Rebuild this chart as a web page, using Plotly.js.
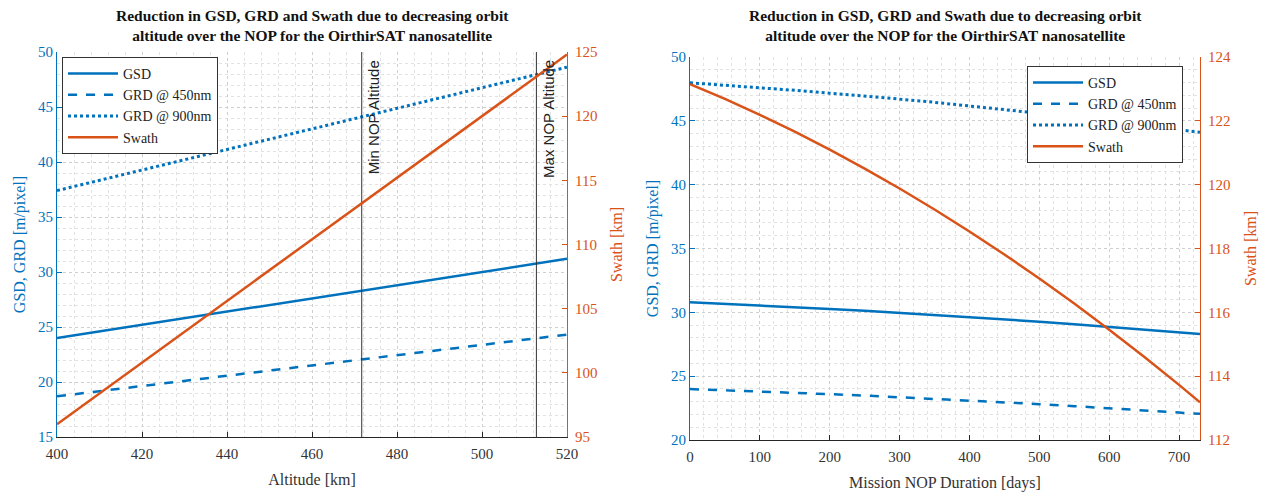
<!DOCTYPE html>
<html><head><meta charset="utf-8">
<script src="https://cdn.plot.ly/plotly-3.0.1.min.js"></script>
<style>html,body{margin:0;padding:0;background:#fff}#plot{width:1263px;height:492px}</style>
</head><body><div id="plot"></div>
<script>
// Left chart: vs altitude
const altitude = [400, 420, 440, 460, 480, 500, 520];
const gsdAlt = [24.0, 25.2, 26.4, 27.6, 28.8, 30.0, 31.2];
const grd450Alt = [18.7, 19.64, 20.57, 21.5, 22.44, 23.38, 24.31];
const grd900Alt = [37.4, 39.27, 41.14, 43.01, 44.88, 46.75, 48.62];
const swathAlt = [96.0, 100.8, 105.6, 110.4, 115.2, 120.0, 124.8];
const minNopAlt = 471.7;
const maxNopAlt = 512.8;

// Right chart: vs mission duration
const days = [0, 50, 100, 150, 200, 250, 300, 350, 400, 450, 500, 550, 600, 650, 700, 730];
const gsdDays = [30.79, 30.67, 30.55, 30.41, 30.27, 30.13, 29.97, 29.81, 29.63, 29.45, 29.27, 29.07, 28.86, 28.65, 28.43, 28.30];
const grd450Days = [23.99, 23.90, 23.80, 23.70, 23.59, 23.48, 23.35, 23.23, 23.09, 22.95, 22.81, 22.65, 22.49, 22.32, 22.15, 22.05];
const grd900Days = [47.98, 47.79, 47.61, 47.39, 47.17, 46.95, 46.70, 46.45, 46.17, 45.89, 45.61, 45.30, 44.97, 44.64, 44.30, 44.10];
const swathDays = [123.15, 122.685, 122.188, 121.659, 121.098, 120.505, 119.880, 119.223, 118.534, 117.813, 117.060, 116.275, 115.458, 114.609, 113.728, 113.180];

const seriesNames = ['GSD', 'GRD @ 450nm', 'GRD @ 900nm', 'Swath'];
const titleText = 'Reduction in GSD, GRD and Swath due to decreasing orbit<br>altitude over the NOP for the OirthirSAT nanosatellite';

const BLUE = '#0072BD', ORANGE = '#D95319', DARK = '#262626';
const SERIF = '"Liberation Serif", "Times New Roman", serif';
const SANS = '"Liberation Sans", Arial, sans-serif';

function mk(x, y, name, color, dash, xa, ya, legend, w) {
  return {x: x, y: y, name: name, type: 'scatter', mode: 'lines', xaxis: xa, yaxis: ya,
    legend: legend, line: {color: color, width: w || 2.5, dash: dash}};
}
const traces = [
  mk(altitude, gsdAlt, seriesNames[0], BLUE, 'solid', 'x', 'y', 'legend'),
  mk(altitude, grd450Alt, seriesNames[1], BLUE, 'dash', 'x', 'y', 'legend'),
  mk(altitude, grd900Alt, seriesNames[2], BLUE, 'dot', 'x', 'y', 'legend', 3),
  mk(altitude, swathAlt, seriesNames[3], ORANGE, 'solid', 'x', 'y2', 'legend'),
  mk(days, gsdDays, seriesNames[0], BLUE, 'solid', 'x2', 'y3', 'legend2'),
  mk(days, grd450Days, seriesNames[1], BLUE, 'dash', 'x2', 'y3', 'legend2'),
  mk(days, grd900Days, seriesNames[2], BLUE, 'dot', 'x2', 'y3', 'legend2', 3),
  mk(days, swathDays, seriesNames[3], ORANGE, 'solid', 'x2', 'y4', 'legend2')
];
// vertical NOP lines
[minNopAlt, maxNopAlt].forEach(v => {
  traces.push({x: [v, v], y: [15, 50], xaxis: 'x', yaxis: 'y', mode: 'lines', showlegend: false,
    hoverinfo: 'skip', line: {color: '#333', width: 1}});
});

const H = 492, W = 1263;
const L1 = [57 / W, 567 / W], L1y = [1 - 437 / H, 1 - 52 / H];
const R1 = [690 / W, 1200 / W], R1y = [1 - 440 / H, 1 - 57 / H];

const grid = {gridcolor: '#cfcfcf', griddash: 'dot', gridwidth: 1};
const minorBase = {showgrid: true, gridcolor: '#e2e2e2', griddash: 'dot', gridwidth: 1, ticks: ''};
const tickF = (c) => ({family: SERIF, size: 15, color: c});

const layout = {
  width: W, height: H, margin: {l: 0, r: 0, t: 0, b: 0}, paper_bgcolor: '#fff', plot_bgcolor: '#fff',
  showlegend: true,
  xaxis: Object.assign({domain: L1, range: [400, 520], dtick: 20, tick0: 400, anchor: 'y',
    showline: true, linecolor: DARK, linewidth: 1, ticks: 'inside', ticklen: 5, tickcolor: DARK,
    tickfont: tickF('#333'), zeroline: false, ticklabelstandoff: 3,
    minor: Object.assign({dtick: 4}, minorBase),
    title: {text: 'Altitude [km]', font: {family: SERIF, size: 16, color: '#333'}, standoff: 12}}, grid),
  yaxis: Object.assign({domain: L1y, range: [15, 50], dtick: 5, anchor: 'x',
    showline: true, linecolor: BLUE, linewidth: 1, ticks: 'inside', ticklen: 5, tickcolor: BLUE,
    tickfont: tickF(BLUE), zeroline: false,
    minor: Object.assign({dtick: 1}, minorBase),
    title: {text: 'GSD, GRD [m/pixel]', font: {family: SERIF, size: 16, color: BLUE}, standoff: 8}}, grid),
  yaxis2: {overlaying: 'y', side: 'right', anchor: 'x', range: [95, 125], dtick: 5, showgrid: false,
    showline: true, linecolor: ORANGE, linewidth: 1, ticks: 'inside', ticklen: 5, tickcolor: ORANGE,
    tickfont: tickF(ORANGE), zeroline: false, ticklabelstandoff: 4,
    title: {text: 'Swath [km]', font: {family: SERIF, size: 16, color: ORANGE}, standoff: 14}},
  xaxis2: Object.assign({domain: R1, range: [0, 730], dtick: 100, tick0: 0, anchor: 'y3',
    showline: true, linecolor: DARK, linewidth: 1, ticks: 'inside', ticklen: 5, tickcolor: DARK,
    tickfont: tickF('#333'), zeroline: false, ticklabelstandoff: 3,
    minor: Object.assign({dtick: 20}, minorBase),
    title: {text: 'Mission NOP Duration [days]', font: {family: SERIF, size: 16, color: '#333'}, standoff: 12}}, grid),
  yaxis3: Object.assign({domain: R1y, range: [20, 50], dtick: 5, anchor: 'x2',
    showline: true, linecolor: BLUE, linewidth: 1, ticks: 'inside', ticklen: 5, tickcolor: BLUE,
    tickfont: tickF(BLUE), zeroline: false,
    minor: Object.assign({dtick: 1}, minorBase),
    title: {text: 'GSD, GRD [m/pixel]', font: {family: SERIF, size: 16, color: BLUE}, standoff: 8}}, grid),
  yaxis4: {overlaying: 'y3', side: 'right', anchor: 'x2', range: [112, 124], dtick: 2, showgrid: false,
    showline: true, linecolor: ORANGE, linewidth: 1, ticks: 'inside', ticklen: 5, tickcolor: ORANGE,
    tickfont: tickF(ORANGE), zeroline: false, ticklabelstandoff: 4,
    title: {text: 'Swath [km]', font: {family: SERIF, size: 16, color: ORANGE}, standoff: 14}},
  legend: {x: 62 / W, y: 1 - 57 / H, xanchor: 'left', yanchor: 'top', bgcolor: '#fff',
    bordercolor: '#333', borderwidth: 1, font: {family: SERIF, size: 14, color: '#222'},
    itemwidth: 50, tracegroupgap: 0},
  legend2: {x: 1027 / W, y: 1 - 66 / H, xanchor: 'left', yanchor: 'top', bgcolor: '#fff',
    bordercolor: '#333', borderwidth: 1, font: {family: SERIF, size: 14, color: '#222'},
    itemwidth: 50, tracegroupgap: 0},
  annotations: [
    {text: titleText, xref: 'paper', yref: 'paper', x: (L1[0] + L1[1]) / 2, y: 1 - 5 / H,
      xanchor: 'center', yanchor: 'top', showarrow: false,
      font: {family: SERIF, size: 15.5, color: '#111', weight: 'bold'}},
    {text: titleText, xref: 'paper', yref: 'paper', x: (R1[0] + R1[1]) / 2, y: 1 - 5 / H,
      xanchor: 'center', yanchor: 'top', showarrow: false,
      font: {family: SERIF, size: 15.5, color: '#111', weight: 'bold'}},
    {text: 'Min NOP Altitude', xref: 'x', yref: 'paper', x: minNopAlt, y: L1y[1] - 6 / H,
      xanchor: 'left', yanchor: 'top', textangle: -90, showarrow: false, xshift: 1,
      font: {family: SANS, size: 15, color: '#222'}},
    {text: 'Max NOP Altitude', xref: 'x', yref: 'paper', x: maxNopAlt, y: L1y[1] - 6 / H,
      xanchor: 'left', yanchor: 'top', textangle: -90, showarrow: false, xshift: 1,
      font: {family: SANS, size: 15, color: '#222'}}
  ]
};

Plotly.newPlot('plot', traces, layout, {displayModeBar: false, staticPlot: true});
</script></body></html>
